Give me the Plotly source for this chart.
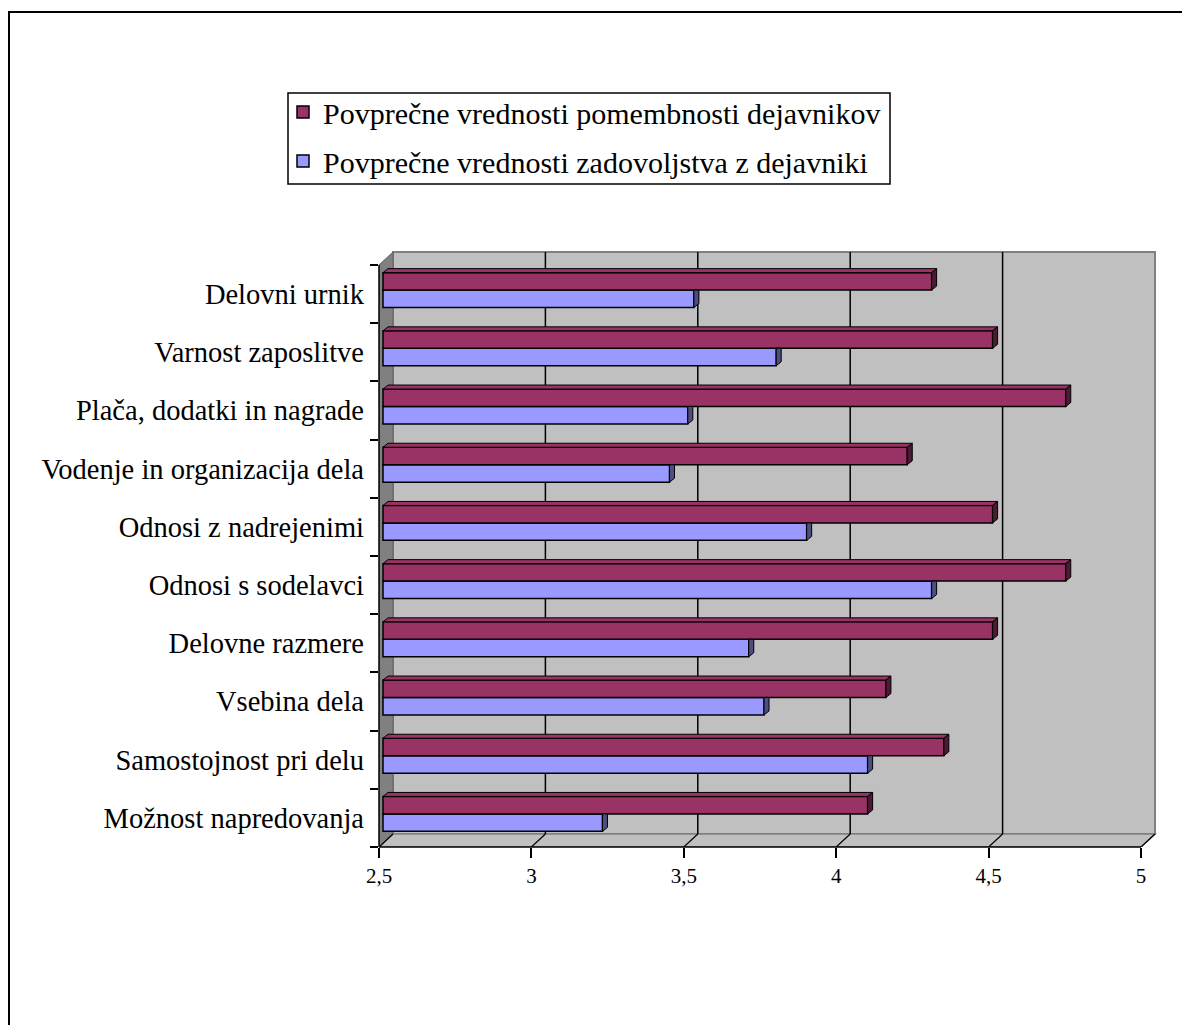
import plotly.graph_objects as go

# Factors, listed bottom to top as they appear on the chart
categories = [
    "Možnost napredovanja",
    "Samostojnost pri delu",
    "Vsebina dela",
    "Delovne razmere",
    "Odnosi s sodelavci",
    "Odnosi z nadrejenimi",
    "Vodenje in organizacija dela",
    "Plača, dodatki in nagrade",
    "Varnost zaposlitve",
    "Delovni urnik",
]
importance = [4.09, 4.34, 4.15, 4.50, 4.74, 4.50, 4.22, 4.74, 4.50, 4.30]
satisfaction = [3.22, 4.09, 3.75, 3.70, 4.30, 3.89, 3.44, 3.50, 3.79, 3.52]

x_ticks = [2.5, 3, 3.5, 4, 4.5, 5]
x_tick_labels = ["2,5", "3", "3,5", "4", "4,5", "5"]

name_imp = "Povprečne vrednosti pomembnosti dejavnikov"
name_sat = "Povprečne vrednosti zadovoljstva z dejavniki"

# Colours
C_IMP, C_IMP_DARK = "#993366", "#4d1a33"
C_SAT, C_SAT_DARK = "#9999ff", "#4d4d80"
WALL, SIDE, EDGE = "#c0c0c0", "#808080", "#808080"
FONT = "Liberation Serif"

# Pixel geometry of the plot area and the pseudo-3D depth
W, H = 1182, 1025
L, B = 379, 178                 # front axes origin (left / bottom margins)
UX, UY = 304.8, 58.2            # px per value unit / per category
XMIN, XMAX = x_ticks[0], x_ticks[-1]
YMIN, YMAX = -0.5, len(categories) - 0.5
DX, DY = 14 / UX, 13 / UY       # back-wall offset
BX, BY = 4 / UX, 4 / UY         # bar plane offset
PX, PY = 5 / UX, 4 / UY         # bar depth
PAD_X, PAD_Y = 3 / UX, 3 / UY
BAR_H = 0.30

x_range = [XMIN, XMAX + DX + PAD_X]
y_range = [YMIN, YMAX + DY + PAD_Y]
plot_w = (x_range[1] - x_range[0]) * UX
plot_h = (y_range[1] - y_range[0]) * UY
R = W - L - plot_w
T = H - B - plot_h


def px_x(p):
    """Horizontal pixel position -> paper coordinate."""
    return (p - L) / plot_w


def px_y(p):
    """Vertical pixel position (from top) -> paper coordinate."""
    return (H - B - p) / plot_h


fig = go.Figure()

base = XMIN + BX
y_imp = [i + BY + BAR_H / 2 for i in range(len(categories))]
y_sat = [i + BY - BAR_H / 2 for i in range(len(categories))]

# Front faces of the bars
fig.add_trace(go.Bar(
    y=y_sat, x=[v - XMIN for v in satisfaction], base=base, orientation="h",
    width=BAR_H, name=name_sat, legendrank=2, legendgroup="sat",
    marker=dict(color=C_SAT, line=dict(color="black", width=1.5)),
    hoverinfo="skip",
))
fig.add_trace(go.Bar(
    y=y_imp, x=[v - XMIN for v in importance], base=base, orientation="h",
    width=BAR_H, name=name_imp, legendrank=1, legendgroup="imp",
    marker=dict(color=C_IMP, line=dict(color="black", width=1.5)),
    hoverinfo="skip",
))


def faces(values, centers, top_face, clip_end):
    """Polygons for the top and end faces of a series of bars."""
    tx, ty, ex, ey = [], [], [], []
    for v, c in zip(values, centers):
        xs, xe = base, v + BX
        yb, yt = c - BAR_H / 2, c + BAR_H / 2
        if top_face:
            tx += [xs, xe, xe + PX, xs + PX, xs, None]
            ty += [yt, yt, yt + PY, yt + PY, yt, None]
        end_top = yt if clip_end else yt + PY
        ex += [xe, xe + PX, xe + PX, xe, xe, None]
        ey += [yb, yb + PY, end_top, yt, yb, None]
    return tx, ty, ex, ey


_, _, sx, sy = faces(satisfaction, y_sat, False, True)
fig.add_trace(go.Scatter(x=sx, y=sy, mode="lines", fill="toself", fillcolor=C_SAT_DARK,
                         line=dict(color="black", width=1), showlegend=False, hoverinfo="skip"))
tx, ty, ex, ey = faces(importance, y_imp, True, False)
fig.add_trace(go.Scatter(x=tx, y=ty, mode="lines", fill="toself", fillcolor=C_IMP,
                         line=dict(color="black", width=1), showlegend=False, hoverinfo="skip"))
fig.add_trace(go.Scatter(x=ex, y=ey, mode="lines", fill="toself", fillcolor=C_IMP_DARK,
                         line=dict(color="black", width=1), showlegend=False, hoverinfo="skip"))

shapes = []
# chart area border
shapes.append(dict(type="rect", xref="paper", yref="paper", layer="below",
                   x0=px_x(9), x1=px_x(W + 10), y0=px_y(H + 15), y1=px_y(12),
                   line=dict(color="black", width=2), fillcolor="white"))
# legend frame
shapes.append(dict(type="rect", xref="paper", yref="paper", layer="below",
                   x0=px_x(288), x1=px_x(890), y0=px_y(184), y1=px_y(93),
                   line=dict(color="black", width=1.5), fillcolor="white"))
# back wall
shapes.append(dict(type="rect", xref="x", yref="y", layer="below",
                   x0=XMIN + DX, x1=XMAX + DX, y0=YMIN + DY, y1=YMAX + DY,
                   fillcolor=WALL, line=dict(color=EDGE, width=2)))
# floor
shapes.append(dict(type="path", xref="x", yref="y", layer="below",
                   path=f"M{XMIN},{YMIN} L{XMAX},{YMIN} L{XMAX + DX},{YMIN + DY} L{XMIN + DX},{YMIN + DY} Z",
                   fillcolor=WALL, line=dict(color=EDGE, width=1.5)))
# left side wall
shapes.append(dict(type="path", xref="x", yref="y", layer="below",
                   path=f"M{XMIN},{YMIN} L{XMIN},{YMAX} L{XMIN + DX},{YMAX + DY} L{XMIN + DX},{YMIN + DY} Z",
                   fillcolor=SIDE, line=dict(color="#606060", width=1)))
# gridlines on the back wall and their floor diagonals
for v in x_ticks[1:-1]:
    shapes.append(dict(type="line", xref="x", yref="y", layer="below",
                       x0=v + DX, x1=v + DX, y0=YMIN + DY, y1=YMAX + DY,
                       line=dict(color="black", width=1.5)))
for v in x_ticks:
    shapes.append(dict(type="line", xref="x", yref="y", layer="below",
                       x0=v, x1=v + DX, y0=YMIN, y1=YMIN + DY,
                       line=dict(color="black", width=1.2)))
# front axis lines
shapes.append(dict(type="line", xref="x", yref="paper", x0=XMIN, x1=XMAX, y0=0, y1=0,
                   line=dict(color="black", width=1.5)))
shapes.append(dict(type="line", xref="paper", yref="y", x0=0, x1=0, y0=YMIN, y1=YMAX,
                   line=dict(color="black", width=1.5)))

fig.update_layout(
    width=W, height=H,
    margin=dict(l=L, r=R, t=T, b=B, pad=0),
    paper_bgcolor="white", plot_bgcolor="rgba(0,0,0,0)",
    barmode="overlay",
    shapes=shapes,
    showlegend=True,
    legend=dict(
        x=px_x(283), y=px_y(86), xanchor="left", yanchor="top",
        bgcolor="rgba(0,0,0,0)", borderwidth=0,
        font=dict(family=FONT, size=30, color="black"),
        tracegroupgap=7, itemwidth=30,
    ),
    xaxis=dict(
        range=x_range, showgrid=False, zeroline=False, showline=False,
        tickmode="array", tickvals=x_ticks, ticktext=x_tick_labels,
        ticks="outside", ticklen=10, tickwidth=1.5, tickcolor="black",
        tickfont=dict(family=FONT, size=21, color="black"),
    ),
    yaxis=dict(
        range=y_range, showgrid=False, zeroline=False, showline=False,
        tickmode="array", tickvals=list(range(len(categories))), ticktext=categories,
        ticks="", ticklabelstandoff=14,
        tickfont=dict(family=FONT, size=28.5, color="black"),
        minor=dict(tickmode="array", tickvals=[i - 0.5 for i in range(len(categories) + 1)],
                   ticks="outside", ticklen=8, tickwidth=1.5, tickcolor="black", showgrid=False),
    ),
)

fig.write_html("out.html")
